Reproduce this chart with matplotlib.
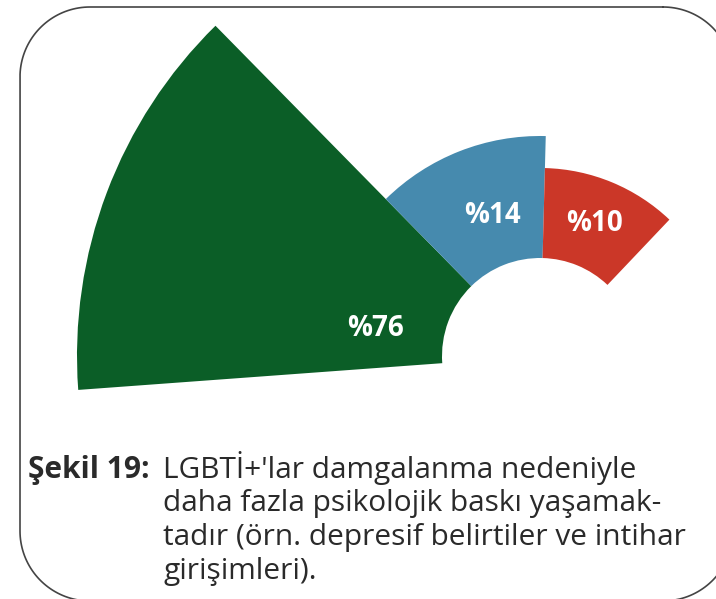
import numpy as np
import matplotlib.pyplot as plt

# chart data
values = [76, 14, 10]
labels = ['%76', '%14', '%10']
colors = ['#0B5E27', '#468AAE', '#CB3728']

# wedge geometry (degrees / pixels)
edges_deg = [184.2, 134.5, 88.5, 46.5]
outer_r = [463, 220, 188]
inner_r = 98
label_pos = [(170.4, 167), (108.9, 148), (67.4, 143)]

caption_head = 'Şekil 19:'
caption_lines = [
    "LGBTİ+'lar damgalanma nedeniyle",
    'daha fazla psikolojik baskı yaşamak-',
    'tadır (örn. depresif belirtiler ve intihar',
    'girişimleri).',
]

W, H = 716, 599
fig = plt.figure(figsize=(W / 100, H / 100), dpi=100)
fig.patch.set_facecolor('white')

# polar axes with its centre placed at the wedge centre, 1 radial unit = 1 px
cx, cy = 540, 356
R = 480
pax = fig.add_axes([(cx - R) / W, (H - cy - R) / H, 2 * R / W, 2 * R / H],
                   projection='polar')
pax.set_ylim(0, R)
pax.axis('off')

theta_start = np.deg2rad(edges_deg[:-1])
theta_end = np.deg2rad(edges_deg[1:])
widths = theta_start - theta_end
centers = theta_end + widths / 2
heights = [r - inner_r for r in outer_r]
pax.bar(centers, heights, width=widths, bottom=inner_r, color=colors,
        edgecolor='none', align='center')

for lab, (a, r) in zip(labels, label_pos):
    pax.text(np.deg2rad(a), r, lab, ha='center', va='center', color='white',
             fontsize=20, fontweight='bold', family='Open Sans')

# overlay axes in pixel coordinates (y measured from the top)
ax = fig.add_axes([0, 0, 1, 1])
ax.set_xlim(0, W)
ax.set_ylim(H, 0)
ax.axis('off')
ax.patch.set_alpha(0)


def rounded_rect(x0, y0, x1, y1, rad, n=40):
    # corners: (centre, start angle, end angle) in screen coordinates
    pts = []
    corners = [((x1 - rad, y0 + rad), -90, 0),
               ((x1 - rad, y1 - rad), 0, 90),
               ((x0 + rad, y1 - rad), 90, 180),
               ((x0 + rad, y0 + rad), 180, 270)]
    for (ccx, ccy), a0, a1 in corners:
        t = np.deg2rad(np.linspace(a0, a1, n))
        pts.append(np.column_stack([ccx + rad * np.cos(t), ccy + rad * np.sin(t)]))
    pts = np.vstack(pts + [pts[0][:1]])
    return pts[:, 0], pts[:, 1]


fx, fy = rounded_rect(20, 7, 733, 601, 70)
ax.plot(fx, fy, color='#444444', linewidth=1.2, solid_capstyle='round')

ax.text(28, 478, caption_head, ha='left', va='baseline', fontsize=21.5,
        fontweight='bold', color='#2a2a2a', family='Open Sans')
for i, line in enumerate(caption_lines):
    ax.text(163, 478 + i * 33.5, line, ha='left', va='baseline',
            fontsize=21.5, color='#2a2a2a', family='Open Sans')

fig.savefig('out.png', dpi=100)
